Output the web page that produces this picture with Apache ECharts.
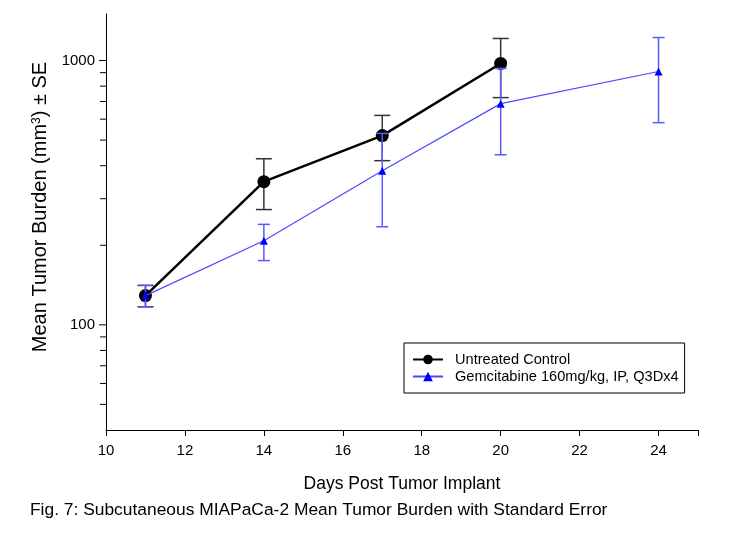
<!DOCTYPE html>
<html><head><meta charset="utf-8">
<script src="https://cdn.jsdelivr.net/npm/echarts@6/dist/echarts.min.js"></script>
<style>html,body{margin:0;padding:0;background:#fff}#c{width:738px;height:537px}</style>
</head><body><div id="c"></div>
<script>
const days = [11, 14, 17, 20];
const ctrlMean = [129, 348, 520, 975];
const ctrlLow = [117, 273, 418, 724];
const ctrlHigh = [141, 425, 620, 1212];
const gemDays = [11, 14, 17, 20, 24];
const gemMean = [129, 208, 383, 687, 909];
const gemLow = [117, 175, 235, 440, 582];
const gemHigh = [141, 240, 530, 934, 1222];
const majorTicks = [100, 1000];
const minorTicks = [50, 60, 70, 80, 90, 200, 300, 400, 500, 600, 700, 800, 900];
const FONT = '"Liberation Sans", Arial, sans-serif';

function errItem(color, capHalf, lw) {
  return function (params, api) {
    const x = api.value(0);
    const lo = api.coord([x, api.value(1)]);
    const hi = api.coord([x, api.value(2)]);
    const st = { stroke: color, lineWidth: lw };
    return { type: 'group', children: [
      { type: 'line', shape: { x1: lo[0], y1: lo[1], x2: hi[0], y2: hi[1] }, style: st },
      { type: 'line', shape: { x1: lo[0] - capHalf, y1: lo[1], x2: lo[0] + capHalf, y2: lo[1] }, style: st },
      { type: 'line', shape: { x1: hi[0] - capHalf, y1: hi[1], x2: hi[0] + capHalf, y2: hi[1] }, style: st }
    ]};
  };
}
function tickItem(len) {
  return (p, api) => {
    const c = api.coord([10, api.value(1)]);
    return { type: 'line', shape: { x1: c[0] - len, y1: c[1], x2: c[0], y2: c[1] }, style: { stroke: '#000', lineWidth: 1 } };
  };
}

const chart = echarts.init(document.getElementById('c'));
chart.setOption({
  animation: false,
  backgroundColor: '#fff',
  textStyle: { fontFamily: FONT },
  grid: { left: 106, right: 40, top: 14, bottom: 107 },
  legend: {
    orient: 'vertical', left: 404, top: 343,
    padding: [9, 6, 9, 8], itemGap: 2,
    borderColor: '#000', borderWidth: 1,
    itemWidth: 30, itemHeight: 12,
    textStyle: { fontSize: 14.6, color: '#000', fontFamily: FONT, padding: [0, 0, 0, 7] },
    data: ['Untreated Control', 'Gemcitabine 160mg/kg, IP, Q3Dx4']
  },
  xAxis: {
    type: 'value', min: 10, max: 25, interval: 2,
    name: 'Days Post Tumor Implant', nameLocation: 'middle', nameGap: 45,
    nameTextStyle: { fontSize: 17.5, color: '#000', fontFamily: FONT },
    axisLine: { lineStyle: { color: '#000', width: 1 } },
    axisTick: { inside: false, length: 6, lineStyle: { color: '#000' } },
    axisLabel: { fontSize: 15, color: '#000', margin: 13, fontFamily: FONT,
      formatter: v => (v <= 24 ? String(v) : '') },
    splitLine: { show: false }
  },
  yAxis: {
    type: 'log', logBase: 10, min: 40, max: 1500,
    name: 'Mean Tumor Burden (mm{sup|3}) ± SE', nameLocation: 'middle', nameGap: 54,
    nameTextStyle: { fontSize: 20, color: '#000', fontFamily: FONT, padding: [0, 0, 0, 30],
      rich: { sup: { fontSize: 12, padding: [0, 0, 9, 0], fontFamily: FONT, color: '#000' } } },
    axisLine: { show: true, lineStyle: { color: '#000', width: 1 } },
    axisTick: { show: false },
    axisLabel: { fontSize: 15, color: '#000', margin: 11, fontFamily: FONT,
      formatter: v => (majorTicks.indexOf(Math.round(v)) >= 0 ? String(Math.round(v)) : '') },
    splitLine: { show: false }
  },
  graphic: [{
    type: 'text', left: 30, top: 502,
    style: { text: 'Fig. 7: Subcutaneous MIAPaCa-2 Mean Tumor Burden with Standard Error',
      fontSize: 17.4, fill: '#000', fontFamily: FONT }
  }],
  series: [
    {
      type: 'custom', name: 'major', silent: true, clip: false, z: 1,
      data: majorTicks.map(v => [10, v]), renderItem: tickItem(7)
    },
    {
      type: 'custom', name: 'minor', silent: true, clip: false, z: 1,
      data: minorTicks.map(v => [10, v]), renderItem: tickItem(6)
    },
    {
      type: 'custom', name: 'ctrlErr', z: 2,
      data: days.map((d, i) => [d, ctrlLow[i], ctrlHigh[i]]),
      renderItem: errItem('#333', 8, 1.5)
    },
    {
      type: 'line', name: 'Untreated Control', z: 3,
      data: days.map((d, i) => [d, ctrlMean[i]]),
      symbol: 'circle', symbolSize: 13,
      lineStyle: { color: '#000', width: 2.5 },
      itemStyle: { color: '#000' }
    },
    {
      type: 'custom', name: 'gemErr', z: 4,
      data: gemDays.map((d, i) => [d, gemLow[i], gemHigh[i]]),
      renderItem: errItem('#5a5aff', 6, 1.5)
    },
    {
      type: 'line', name: 'Gemcitabine 160mg/kg, IP, Q3Dx4', z: 5,
      data: gemDays.map((d, i) => [d, gemMean[i]]),
      symbol: 'triangle', symbolSize: 8,
      lineStyle: { color: '#4a4aff', width: 1.2 },
      itemStyle: { color: '#0000ff' }
    }
  ]
});
</script></body></html>
